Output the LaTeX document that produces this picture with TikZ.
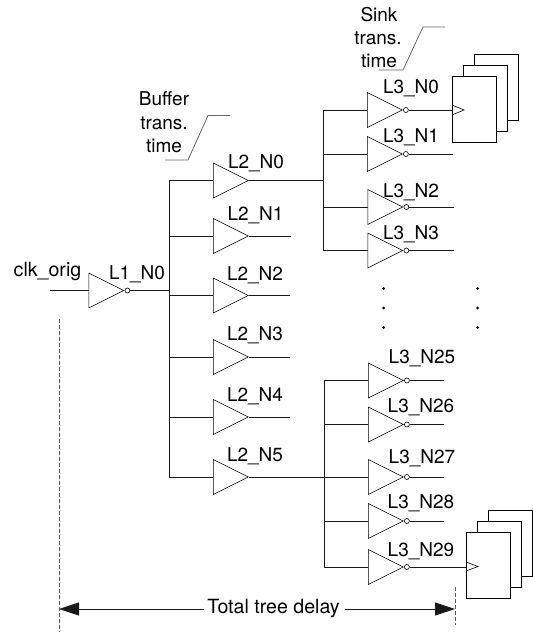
\documentclass[tikz,border=0pt]{standalone}
\usepackage{fontspec}
\setmainfont{TeX Gyre Heros}
\usetikzlibrary{shapes.geometric,arrows.meta,calc}
\tikzset{
  x=1bp,y=-1bp,
  wire/.style={line width=0.8bp,black!90},
  callout/.style={line width=0.8bp,black!60},
  gate/.style={draw,line width=0.6bp,isosceles triangle,isosceles triangle stretches,shape border rotate=0,minimum width=35bp,minimum height=35bp,inner sep=0pt,anchor=lower side},
  bubble/.style={draw,line width=0.6bp,circle,minimum size=5bp,inner sep=0pt,anchor=west},
  lab/.style={font=\fontsize{19bp}{22bp}\selectfont,inner sep=0pt,anchor=center,text height=13.6bp,text depth=0pt},
  widelab/.style={font=\fontsize{19.6bp}{22bp}\selectfont,inner sep=0pt,anchor=center,text height=14bp,text depth=0pt},
  flop/.style={draw,line width=0.7bp,fill=white,minimum width=44bp,minimum height=66bp,inner sep=0pt,anchor=north west},
  dline/.style={line width=0.8bp,black!65,dashed,dash pattern=on 3.5bp off 2.5bp},
  dotn/.style={circle,fill=black,minimum size=3bp,inner sep=0pt},
}
% name, y, wire end x, label text, label x, label y, gate x, trunk
\newcommand{\invgate}[8]{%
  \node[gate] (#1) at (#7,#2) {};
  \node[bubble] (#1b) at (#1.apex) {};
  \coordinate (#1e) at (#3,#2);
  \draw[wire] (#1b.east) -- (#1e);
  \draw[wire] (#8 |- #1.lower side) -- (#1.lower side);
  \node[lab] (#1t) at (#5,#6) {#4};
}
\newcommand{\bufgate}[6]{%
  \node[gate] (#1) at (213,#2) {};
  \coordinate (#1e) at (#3,#2);
  \draw[wire] (#1.apex) -- (#1e);
  \draw[wire] (T2 |- #1.lower side) -- (#1.lower side);
  \node[lab] (#1t) at (#5,#6) {#4};
}
\begin{document}
\begin{tikzpicture}
\useasboundingbox (0,0) rectangle (533,633);
% trunks
\coordinate (T2) at (169,180.5);
\coordinate (T2b) at (169,477);
\coordinate (U3) at (323.5,110);
\coordinate (U3b) at (323.5,250.5);
\coordinate (D3) at (324,380.5);
\coordinate (D3b) at (324,567);
\draw[wire] (T2) -- (T2b);
\draw[wire] (U3) -- (U3b);
\draw[wire] (D3) -- (D3b);
% first stage
\coordinate (clkin) at (50,290.5);
\node[gate] (L1) at (88.5,290.5) {};
\node[bubble] (L1b) at (L1.apex) {};
\draw[wire] (clkin) -- (L1.lower side);
\draw[wire] (L1b.east) -- (T2 |- L1b.east);
\node[widelab] (clk) at (47.5,269) {clk\_orig};
\node[lab] (L1t) at (137,273) {L1\_N0};
% second stage
\bufgate{A0}{180.5}{300}{L2\_N0}{256}{162}
\bufgate{A1}{236}{291}{L2\_N1}{255.5}{214}
\bufgate{A2}{295.5}{290}{L2\_N2}{255}{274}
\bufgate{A3}{357}{290}{L2\_N3}{255}{334}
\bufgate{A4}{417}{290}{L2\_N4}{255}{395}
\bufgate{A5}{477}{300}{L2\_N5}{255}{455}
\draw[wire] (A0e) -- (U3 |- A0e);
\draw[wire] (A5e) -- (D3 |- A5e);
% flops
\node[flop] (F1c) at (474,54) {};
\node[flop] (F1b) at (463,65) {};
\node[flop] (F1a) at (452,76) {};
\node[flop] (F2c) at (488,510) {};
\node[flop] (F2b) at (477,521) {};
\node[flop] (F2a) at (466,532) {};
\draw[line width=0.6bp] (452,105) -- (464,110) -- (452,115);
\draw[line width=0.6bp] (466,562) -- (478,566.5) -- (466,571);
% third stage
\invgate{B0}{110}{452}{L3\_N0}{411}{87}{367}{U3}
\invgate{B1}{154}{453}{L3\_N1}{411}{136}{367}{U3}
\invgate{B2}{207}{454}{L3\_N2}{411}{191}{367.5}{U3}
\invgate{B3}{250.5}{454}{L3\_N3}{411}{233}{367.5}{U3}
\invgate{C0}{380.5}{444}{L3\_N25}{422}{357}{368}{D3}
\invgate{C1}{424.5}{444}{L3\_N26}{421}{406}{368}{D3}
\invgate{C2}{477}{444}{L3\_N27}{422}{457}{368}{D3}
\invgate{C3}{521}{444}{L3\_N28}{421}{502}{368}{D3}
\invgate{C4}{567}{466}{L3\_N29}{421}{550}{368}{D3}
% ellipsis dots
\foreach \i/\px/\py in {1/383.5/288.5,2/383.5/308,3/383.5/327.5,4/477.5/288.5,5/477.5/308,6/477.5/327.5}
  \node[dotn] (dot\i) at (\px,\py) {};
% callouts
\node[lab] (s1) at (379,15) {Sink};
\node[lab] (s2) at (378,38) {trans.};
\node[lab] (s3) at (379,61) {time};
\node[lab] (b1) at (164,99) {Buffer};
\node[lab] (b2) at (164,123) {trans.};
\node[lab] (b3) at (164,146) {time};
\draw[callout] (379,70) -- (403,70) -- (423,27) -- (445,27);
\draw[callout] (165,160) -- (188,160) -- (208,115.5) -- (230,115.5);
% delay span
\coordinate (dl1) at (59,319);
\coordinate (dl2) at (59,632);
\coordinate (dr1) at (455,587);
\coordinate (dr2) at (455,625);
\draw[dline] (dl1) -- (dl2);
\draw[dline] (dr1) -- (dr2);
\node[widelab] (tot) at (273.5,606) {Total tree delay};
\coordinate (tl) at (204,609);
\coordinate (tr) at (345,609);
\draw[wire,{Triangle[length=20bp,width=13bp]}-] (dl1 |- tl) -- (tl);
\draw[wire,-{Triangle[length=20bp,width=13bp]}] (tr) -- (dr1 |- tr);
\end{tikzpicture}
\end{document}
